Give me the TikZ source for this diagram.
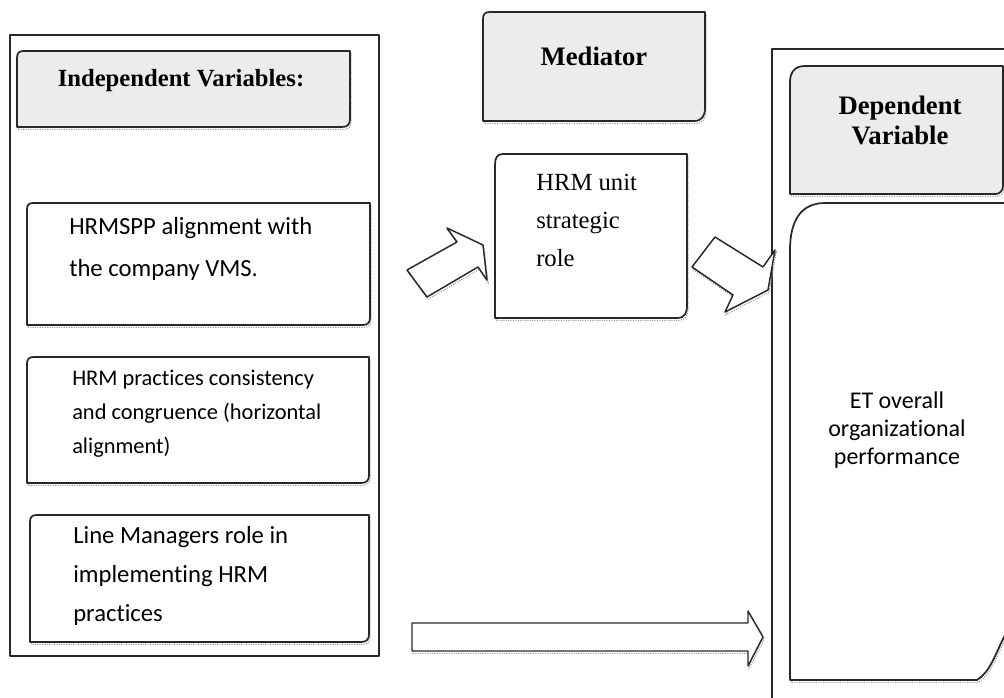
\documentclass[tikz,border=0pt]{standalone}
\usepackage{fontspec}
\setmainfont{Liberation Serif}
\newfontfamily\calibrifont[Ligatures=NoCommon]{Carlito}
\usepackage{tikz}

\begin{document}
\begin{tikzpicture}[x=0.75pt,y=0.75pt,yscale=-1,xscale=1,
    boxline/.style={draw={rgb, 255:red, 40; green, 40; blue, 40}, line width=1.3pt, line join=round},
    shadowed/.style={preaction={draw={rgb, 255:red, 150; green, 150; blue, 150}, densely dotted, line width=0.8pt, transform canvas={shift={(0.8pt,-1.8pt)}}}},
    headbox/.style={boxline, shadowed, fill={rgb, 255:red, 236; green, 236; blue, 236}},
    itembox/.style={boxline, shadowed, fill=white},
    headtext/.style={font=\bfseries\fontsize{20}{22.5}\selectfont, align=center, inner sep=0pt},
    itemtext/.style={font=\calibrifont\fontsize{18.5}{31.5}\selectfont, align=left, anchor=west, inner sep=0pt}
  ]
    \useasboundingbox (0,0) rectangle (1004,698);
    \clip (0,0) rectangle (1004,698);

    %Shape: Rectangle [outer left]
    \draw [boxline] (10,35) rectangle (379,656) ;
    %Shape: Rectangle [outer right]
    \draw [boxline] (772,49) rectangle (1020,710) ;

    %Shape: Snip Rectangle [independent header]
    \draw [headbox] (17,127) -- (17,58) .. controls (17,53) and (19,51) .. (24,51) -- (350,51) -- (350,119) .. controls (350,124) and (348,127) .. (342,127) -- cycle ;
    %Shape: Snip Rectangle [item 1]
    \draw [itembox] (27,325) -- (27,209) .. controls (27,205) and (29,203) .. (33,203) -- (370,203) -- (370,318) .. controls (370,322) and (368,325) .. (363,325) -- cycle ;
    %Shape: Snip Rectangle [item 2]
    \draw [itembox] (27,483) -- (27,364) .. controls (27,359) and (29,357) .. (34,357) -- (369,357) -- (369,475) .. controls (369,480) and (367,483) .. (361,483) -- cycle ;
    %Shape: Snip Rectangle [item 3]
    \draw [itembox] (30,642) -- (30,522) .. controls (30,517) and (32,515) .. (37,515) -- (369,515) -- (369,634) .. controls (369,639) and (367,642) .. (361,642) -- cycle ;

    %Shape: Snip Rectangle [mediator header]
    \draw [headbox] (483,121) -- (483,19) .. controls (483,14) and (485,12) .. (490,12) -- (705,12) -- (705,108) .. controls (705,116) and (702,121) .. (694,121) -- cycle ;
    %Shape: Snip Rectangle [mediator]
    \draw [itembox] (495,318) -- (495,165) .. controls (495,158) and (497,154) .. (503,154) -- (687,154) -- (687,305) .. controls (687,313) and (685,318) .. (677,318) -- cycle ;

    %Shape: Snip Rectangle [dependent header]
    \draw [headbox] (790,194) -- (790,82) .. controls (790,72) and (795,66) .. (805,66) -- (1003,66) -- (1003,186) .. controls (1003,190) and (1000,194) .. (996,194) -- cycle ;
    %Shape: Snip Rectangle [performance]
    \draw [itembox] (790,680) -- (790,250) .. controls (790,222) and (800,203) .. (825,203) -- (1012,203) -- (1012,620) -- (1004,637) .. controls (995,655) and (990,672) .. (977,680) -- cycle ;

    %Shape: Block Arrow [to mediator]
    \draw [itembox, line width=1.1pt] (407,270) -- (457,242) -- (447,228) -- (483,245) -- (487,280) -- (478,267) -- (427,297) -- cycle ;
    %Shape: Block Arrow [to dependent]
    \draw [itembox, line width=1.1pt] (692,267) -- (715,237) -- (763,267) -- (775,250) -- (768,290) -- (725,312) -- (733,295) -- cycle ;
    %Shape: Right Arrow [direct]
    \draw [itembox, line width=1.1pt] (412,623) -- (748,623) -- (748,611) -- (763,637) -- (748,666) -- (748,651) -- (412,651) -- cycle ;

    % Text Node
    \draw (181,81) node (indephead) [headtext, font=\bfseries\fontsize{18.5}{22.5}\selectfont] {Independent Variables:};
    % Text Node
    \draw (594,56) node (medhead) [headtext] {Mediator};
    % Text Node
    \draw (900,120) node (dephead) [headtext] {Dependent\\Variable};
    % Text Node
    \draw (69,249) node (item1) [itemtext] {HRMSPP alignment with\\the company VMS.};
    % Text Node
    \draw (72,414) node (item2) [itemtext, font=\calibrifont\fontsize{16.8}{25.5}\selectfont] {HRM practices consistency\\and congruence (horizontal\\alignment)};
    % Text Node
    \draw (73,576) node (item3) [itemtext, font=\calibrifont\fontsize{18.5}{29}\selectfont] {Line Managers role in\\implementing HRM\\practices};
    % Text Node
    \draw (536,220) node (medrole) [font=\fontsize{18.5}{28.5}\selectfont, align=left, anchor=west, inner sep=0pt] {HRM unit\\strategic\\role};
    % Text Node
    \draw (897,430) node (perf) [font=\calibrifont\fontsize{18}{21}\selectfont, align=center, inner sep=0pt] {ET overall\\organizational\\performance};
\end{tikzpicture}
\end{document}
